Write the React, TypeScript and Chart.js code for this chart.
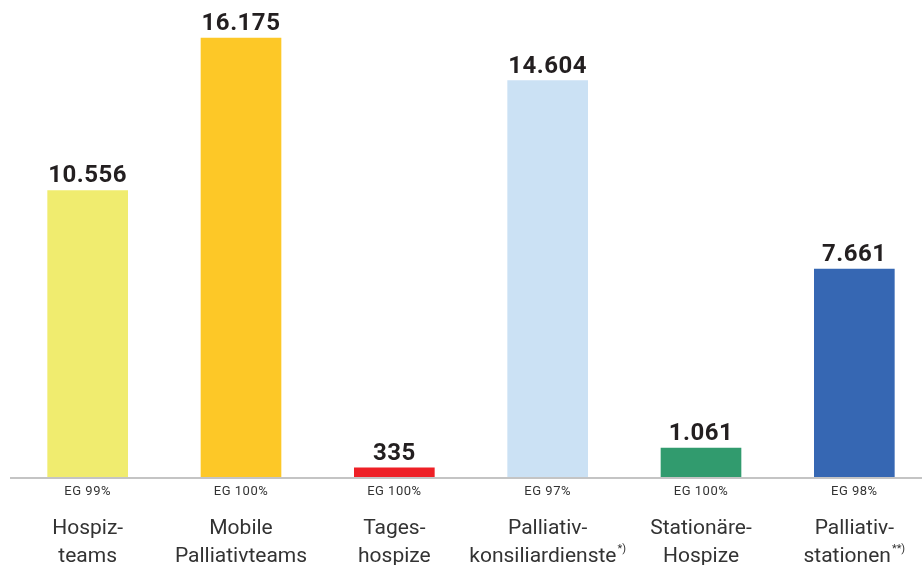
import React, { useEffect, useRef } from "react";
import { Chart, registerables } from "chart.js";

Chart.register(...registerables);

const categories: string[][] = [
  ["Hospiz-", "teams"],
  ["Mobile", "Palliativteams"],
  ["Tages-", "hospize"],
  ["Palliativ-", "konsiliardienste"],
  ["Stationäre-", "Hospize"],
  ["Palliativ-", "stationen"],
];
const footnotes: string[] = ["", "", "", "*)", "", "**)"];
const values: number[] = [10556, 16175, 335, 14604, 1061, 7661];
const valueLabels: string[] = ["10.556", "16.175", "335", "14.604", "1.061", "7.661"];
const egLabels: string[] = ["EG 99%", "EG 100%", "EG 100%", "EG 97%", "EG 100%", "EG 98%"];
const colors: string[] = ["#F0EC6F", "#FDC827", "#EE2026", "#CBE1F4", "#319B6E", "#3667B3"];

const labelPlugin = {
  id: "customLabels",
  afterDatasetsDraw(chart: any) {
    const ctx = chart.ctx as CanvasRenderingContext2D;
    const xScale = chart.scales.x;
    const yScale = chart.scales.y;
    const base = yScale.getPixelForValue(0);
    ctx.save();
    // axis line
    ctx.strokeStyle = "#C4C4C4";
    ctx.lineWidth = 2;
    ctx.beginPath();
    ctx.moveTo(10, base + 1);
    ctx.lineTo(chart.width, base + 1);
    ctx.stroke();

    ctx.textAlign = "center";
    ctx.textBaseline = "alphabetic";
    values.forEach((v, i) => {
      const x = xScale.getPixelForValue(i);
      const top = yScale.getPixelForValue(v);
      // value label
      ctx.fillStyle = "#231F20";
      ctx.font = "bold 24px Roboto";
      (ctx as any).letterSpacing = "0.5px";
      ctx.fillText(valueLabels[i], x, top - 8);
      // EG label
      ctx.fillStyle = "#333333";
      ctx.font = "13px Roboto";
      (ctx as any).letterSpacing = "0.5px";
      ctx.fillText(egLabels[i], x, base + 18);
      // category labels
      (ctx as any).letterSpacing = "0px";
      const lines = categories[i];
      lines.forEach((line, li) => {
        const y = base + 57 + li * 28;
        const isLast = li === lines.length - 1;
        const fn = isLast ? footnotes[i] : "";
        ctx.font = "21px Roboto";
        const w1 = ctx.measureText(line).width;
        ctx.font = "11px Roboto";
        const w2 = fn ? ctx.measureText(fn).width + 1 : 0;
        const start = x - (w1 + w2) / 2;
        ctx.textAlign = "left";
        ctx.font = "21px Roboto";
        ctx.fillText(line, start, y);
        if (fn) {
          ctx.font = "11px Roboto";
          ctx.fillText(fn, start + w1 + 1, y - 10);
        }
        ctx.textAlign = "center";
      });
    });
    ctx.restore();
  },
};

export default function App() {
  const ref = useRef<HTMLCanvasElement | null>(null);
  useEffect(() => {
    if (!ref.current) return;
    const chart = new Chart(ref.current, {
      type: "bar",
      data: {
        labels: categories.map((c) => c.join(" ")),
        datasets: [
          {
            data: values,
            backgroundColor: colors,
            borderWidth: 0,
            barThickness: 80,
          },
        ],
      },
      options: {
        responsive: false,
        animation: false,
        layout: { padding: { left: 11, right: 1, top: 15.6, bottom: 88 } },
        plugins: { legend: { display: false }, tooltip: { enabled: false } },
        scales: {
          x: { display: false, offset: true, grid: { display: false } },
          y: { display: false, min: 0, max: 17000 },
        },
      },
      plugins: [labelPlugin],
    });
    return () => chart.destroy();
  }, []);
  return (
    <div
      style={{
        position: "fixed",
        left: 0,
        top: 0,
        width: 922,
        height: 565,
        overflow: "hidden",
        background: "#fff",
      }}
    >
      <canvas ref={ref} width={932} height={565} style={{ display: "block" }} />
    </div>
  );
}
